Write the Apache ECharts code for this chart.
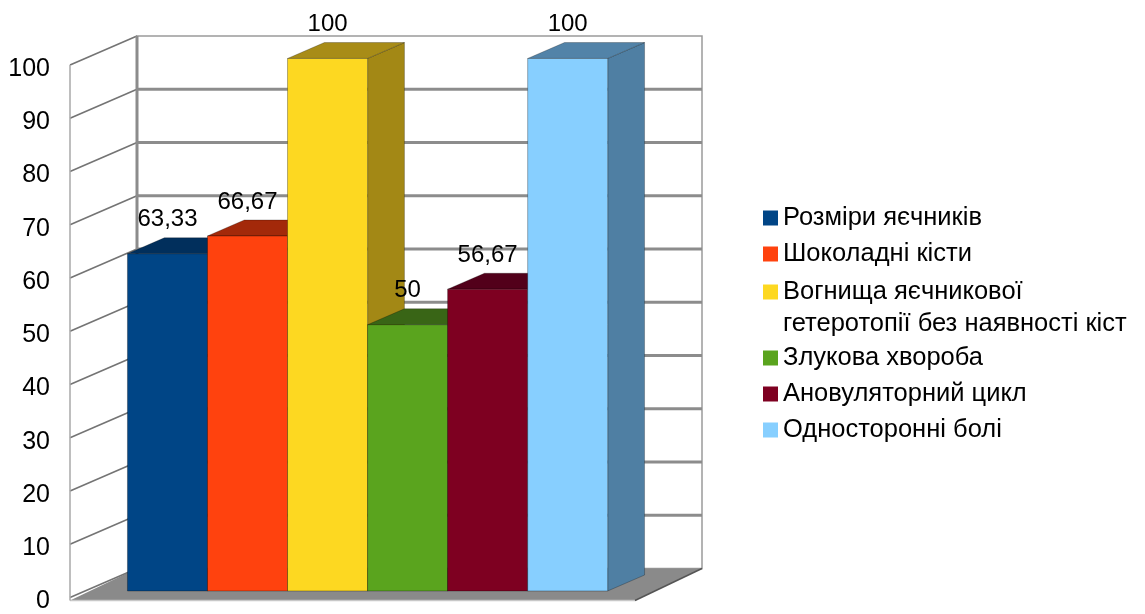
<!DOCTYPE html>
<html>
<head>
<meta charset="utf-8">
<style>
html,body{margin:0;padding:0;background:#fff;}
#chart{width:1145px;height:614px;}
</style>
<script src="https://cdn.jsdelivr.net/npm/echarts@6/dist/echarts.min.js"></script>
</head>
<body>
<div id="chart"></div>
<script>
// ---- data ----
const categories = [''];
const seriesNames = [
  'Розміри яєчників',
  'Шоколадні кісти',
  'Вогнища яєчникової\nгетеротопії без наявності кіст',
  'Злукова хвороба',
  'Ановуляторний цикл',
  'Односторонні болі'
];
const seriesValues = [63.33, 66.67, 100, 50, 56.67, 100];
const yTicks = [0, 10, 20, 30, 40, 50, 60, 70, 80, 90, 100];

// ---- styles ----
const frontColors = ['#004586', '#ff420e', '#fdd821', '#5aa41e', '#7e0021', '#87cfff'];
const topColors   = ['#012f5c', '#a3290a', '#a88c17', '#396516', '#52001a', '#5283a8'];
const sideColors  = ['#012a52', '#9a2709', '#a38815', '#35601a', '#4c0017', '#4f7fa3'];
const FONT = '"Liberation Sans", Arial, sans-serif';
const DX = 67, DY = -29;          // depth offset of the back wall (px)
const F0 = 0.225, F1 = 0.775;      // bar depth position (fraction)
const GROUP = 0.85;                // share of the category band used by bars
const LEGEND_FS = 25.5;

function fmt(v) { return String(v).replace('.', ','); }

function frameRender(params, api) {
  const band = api.size([1, 0])[0];
  const cx = api.coord([0, 0])[0];
  const L = cx - band / 2, R = cx + band / 2;
  const y0 = api.coord([0, yTicks[0]])[1];
  const yTop = api.coord([0, yTicks[yTicks.length - 1]])[1];
  const ch = [];
  // back wall
  ch.push({type: 'rect', shape: {x: L + DX, y: yTop + DY, width: R - L, height: y0 - yTop},
    style: {fill: '#fff', stroke: '#9a9a9a', lineWidth: 1.5}});
  // left wall
  ch.push({type: 'polygon', shape: {points: [[L, yTop], [L + DX, yTop + DY], [L + DX, y0 + DY], [L, y0]]},
    style: {fill: '#fff', stroke: null}});
  // floor slab
  ch.push({type: 'polygon', shape: {points: [[L, y0 + 3], [R, y0 + 3], [R + DX, y0 + DY], [L + DX, y0 + DY]]},
    style: {fill: '#8a8a8a'}});
  ch.push({type: 'line', shape: {x1: L, y1: y0 + 3, x2: R, y2: y0 + 3},
    style: {stroke: '#c8c8c8', lineWidth: 1.5}});
  ch.push({type: 'line', shape: {x1: R, y1: y0 + 3, x2: R + DX, y2: y0 + DY},
    style: {stroke: '#555', lineWidth: 1.5}});
  // grid lines
  yTicks.forEach(function (t) {
    const y = api.coord([0, t])[1];
    if (t > 0 && t < yTicks[yTicks.length - 1]) {
      ch.push({type: 'line', shape: {x1: L + DX, y1: y + DY, x2: R + DX, y2: y + DY},
        style: {stroke: '#8c8c8c', lineWidth: 3}});
    }
    ch.push({type: 'line', shape: {x1: L, y1: y, x2: L + DX, y2: y + DY},
      style: {stroke: '#747474', lineWidth: 1.6}});
  });
  // back-left vertical edge
  ch.push({type: 'line', shape: {x1: L + DX, y1: yTop + DY, x2: L + DX, y2: y0 + DY},
    style: {stroke: '#8c8c8c', lineWidth: 3}});
  // front left edge
  ch.push({type: 'line', shape: {x1: L, y1: yTop, x2: L, y2: y0 + 3},
    style: {stroke: '#a8a8a8', lineWidth: 1.5}});
  return {type: 'group', children: ch};
}

function barRender(i) {
  return function (params, api) {
    const v = api.value(1);
    const band = api.size([1, 0])[0];
    const w = band * GROUP / seriesValues.length;
    const c = api.coord([api.value(0), v]);
    const b = api.coord([api.value(0), 0]);
    const x0 = c[0] + (i - seriesValues.length / 2) * w + DX * F0;
    const x1 = x0 + w;
    const yT = c[1] + DY * F0;
    const yB = b[1] + DY * F0;
    const ddx = DX * (F1 - F0), ddy = DY * (F1 - F0);
    return {type: 'group', children: [
      {type: 'polygon', shape: {points: [[x1, yT], [x1 + ddx, yT + ddy], [x1 + ddx, yB + ddy], [x1, yB]]},
        style: {fill: sideColors[i], stroke: 'rgba(0,0,0,0.25)', lineWidth: 1}},
      {type: 'polygon', shape: {points: [[x0, yT], [x1, yT], [x1 + ddx, yT + ddy], [x0 + ddx, yT + ddy]]},
        style: {fill: topColors[i], stroke: 'rgba(0,0,0,0.25)', lineWidth: 1}},
      {type: 'rect', shape: {x: x0, y: yT, width: w, height: yB - yT},
        style: {fill: frontColors[i], stroke: 'rgba(0,0,0,0.3)', lineWidth: 1}},
      {type: 'text', x: x0 + w / 2, y: yT - 34,
        style: {text: fmt(v), font: '24px ' + FONT, fill: '#000', align: 'center', verticalAlign: 'middle'}}
    ]};
  };
}

const series = [{
  type: 'custom', name: '__frame', z: 1, silent: true,
  data: [[0, 0]], renderItem: frameRender
}];
seriesNames.forEach(function (n, i) {
  series.push({
    type: 'custom', name: n, z: 3 + i, silent: true,
    itemStyle: {color: frontColors[i]},
    data: [[0, seriesValues[i]]],
    renderItem: barRender(i)
  });
});

const legendText = {fontSize: LEGEND_FS, lineHeight: 32, color: '#000', fontFamily: FONT};
function legendBox(top, names) {
  return {
    orient: 'vertical', left: 763, top: top, padding: 0, itemGap: 4,
    itemWidth: 15, itemHeight: 15, icon: 'rect', textStyle: legendText,
    formatter: function (n) { return n.split('\n')[0]; },
    data: names
  };
}
const chart = echarts.init(document.getElementById('chart'), null, {renderer: 'canvas'});
chart.setOption({
  animation: false,
  backgroundColor: '#fff',
  grid: {left: 70, right: 510, top: 65, bottom: 14},
  xAxis: {type: 'category', data: categories, show: false},
  yAxis: {
    type: 'value', min: 0, max: 100, interval: 10,
    axisLine: {show: false}, axisTick: {show: false}, splitLine: {show: false},
    axisLabel: {fontSize: 25, color: '#000', fontFamily: FONT, margin: 20,
      verticalAlign: 'top', lineHeight: 8}
  },
  legend: [
    legendBox(202, [seriesNames[0], seriesNames[1]]),
    legendBox(276, [seriesNames[2]]),
    legendBox(342, [seriesNames[3], seriesNames[4], seriesNames[5]])
  ],
  graphic: [{
    type: 'text', x: 783, y: 324, silent: true,
    style: {text: seriesNames[2].split('\n')[1], fontSize: LEGEND_FS, fontFamily: FONT,
      fill: '#000', align: 'left', verticalAlign: 'middle'}
  }],
  series: series
});
</script>
</body>
</html>
